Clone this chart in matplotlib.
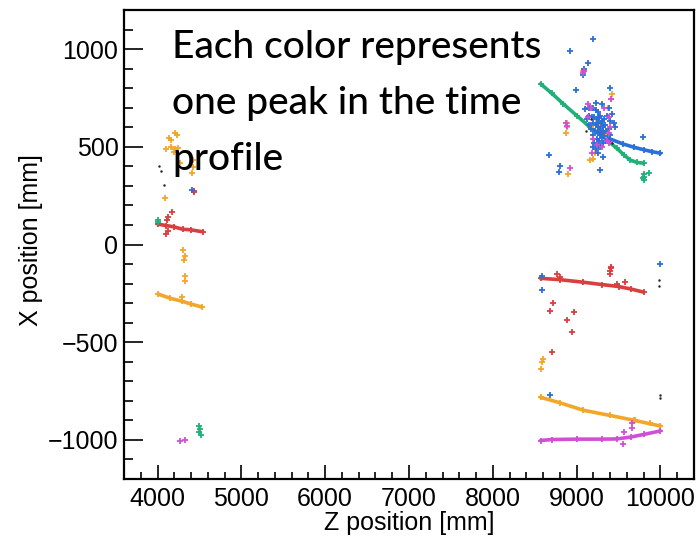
import matplotlib.pyplot as plt
from matplotlib.ticker import MultipleLocator

plt.rcParams['font.family'] = ['Liberation Sans', 'DejaVu Sans']

# ---- colours used for each time-profile peak
c_red = "#d83f3f"
c_orange = "#f4a62a"
c_green = "#21b07a"
c_blue = "#2b6fd8"
c_magenta = "#d050d4"
c_black = "#222222"

# ---- dense tracks (Z, X) in mm
red_left_z = [4000, 4100, 4200, 4300, 4400, 4540]
red_left_x = [105, 97, 90, 78, 75, 65]
red_right_z = [8570, 8800, 9080, 9300, 9500, 9650, 9800]
red_right_x = [-173, -180, -193, -205, -215, -228, -244]

orange_left_z = [4010, 4150, 4290, 4400, 4530]
orange_left_x = [-254, -275, -290, -305, -320]
orange_right_z = [8570, 8800, 9080, 9400, 9680, 10000]
orange_right_x = [-782, -810, -848, -875, -899, -929]

green_z = [8570, 8700, 8840, 9000, 9160, 9250, 9480, 9560, 9640, 9720, 9800]
green_x = [822, 775, 720, 660, 600, 574, 492, 460, 432, 420, 416]

blue_z = [9250, 9400, 9550, 9680, 9800, 9900, 10000]
blue_x = [570, 540, 515, 498, 485, 475, 467]

magenta_z = [8570, 8700, 9000, 9300, 9480, 9650, 9800, 10000]
magenta_x = [-1003, -998, -996, -996, -995, -985, -972, -954]

# ---- isolated hits
red_pts_z = [4167, 4120, 4108, 4120, 4096, 4430, 4440, 9402, 9405, 9400, 9410,
             8720, 8685, 8971, 8888, 8947, 8709, 8768, 9485, 9581, 8800]
red_pts_x = [168, 142, 127, 71, 56, 274, 270, -137, -122, -150, -115,
             -300, -340, -345, -386, -447, -548, -152, -203, -193, -165]

orange_pts_z = [4203, 4227, 4131, 4155, 4096, 4155, 4203, 4239, 4191, 4263, 4418,
                4418, 4406, 4084, 4300, 4323, 4311, 4323, 4323, 4287,
                8601, 8590, 8577, 9420, 9410, 9270, 9260, 9280, 9170, 9220,
                9350, 9370, 8880, 8870, 8890, 9080, 8900, 9200, 9160, 9700, 9880]
orange_pts_x = [569, 558, 543, 533, 487, 497, 487, 492, 472, 416, 431,
                396, 366, 239, -30, -61, -81, -163, -188, -270,
                -584, -599, -635, 770, 745, 650, 630, 610, 600, 470,
                560, 700, 600, 570, 620, 890, 360, 440, 430, -900, -915]

green_pts_z = [4000, 4005, 4500, 4510, 4500, 4520, 9800, 9800, 9800, 9790, 9860]
green_pts_x = [117, 125, -930, -945, -960, -975, 360, 345, 330, 340, 365]

blue_pts_z = [4406, 9200, 8920, 9130, 9090, 9070, 8990, 9400, 9100, 8670, 8800,
              8790, 9320, 9280, 9790, 8590, 8590, 8680, 10000,
              9200, 9230, 9260, 9150, 9180, 9210, 9240, 9270, 9300, 9330, 9360,
              9390, 9420, 9440, 9460, 9200, 9230, 9250, 9280, 9310, 9340, 9220,
              9250, 9280, 9300, 9240, 9270, 9300, 9330, 9200, 9170, 9150, 9260,
              9290, 9320, 9350, 9380, 9400, 9210, 9250, 9280, 9310, 9350, 9230,
              9120, 9280, 9230, 9300, 9150, 9400, 9260, 9190]
blue_pts_x = [279, 1050, 990, 930, 900, 865, 790, 800, 695, 460, 400,
              370, 450, 380, 550, -162, -235, -770, -100,
              700, 690, 680, 660, 650, 655, 640, 650, 630, 640, 660,
              700, 670, 620, 600, 620, 610, 600, 590, 600, 610, 580,
              570, 560, 570, 540, 530, 545, 555, 560, 590, 610, 620,
              620, 580, 580, 590, 560, 520, 510, 500, 520, 530, 490,
              640, 660, 725, 720, 700, 630, 470, 500]

magenta_pts_z = [4263, 4323, 9130, 9170, 9140, 9330, 9380, 9400, 9390, 9200,
                 9240, 9300, 9360, 9380, 9180, 8890, 8870, 9410, 8920, 9080,
                 9090, 9569, 9664, 9664, 9557]
magenta_pts_x = [-1005, -1000, 720, 700, 650, 700, 650, 600, 570, 540,
                 510, 500, 530, 520, 470, 605, 620, 745, 390, 880,
                 890, -960, -914, -939, -1020]

black_pts_z = [4012, 4036, 4072, 9170, 9110, 9420, 9988, 9988, 9990, 9990]
black_pts_x = [401, 376, 305, 640, 580, 520, -183, -213, -772, -787]

note = "Each color represents\none peak in the time\nprofile"

# -------------------------
fig = plt.figure(figsize=(7.0, 5.36), dpi=100)
ax = fig.add_axes([124 / 700, 57 / 536, 570 / 700, 469 / 536])

tracks = [
    (red_left_z, red_left_x, c_red), (red_right_z, red_right_x, c_red),
    (orange_left_z, orange_left_x, c_orange), (orange_right_z, orange_right_x, c_orange),
    (green_z, green_x, c_green), (blue_z, blue_x, c_blue),
    (magenta_z, magenta_x, c_magenta),
]
for z, x, col in tracks:
    ax.plot(z, x, '-', color=col, lw=2.6, solid_capstyle='round', zorder=2)
    ax.plot(z, x, '+', color=col, ms=5, mew=1.3, zorder=2)

for z, x, col in [(red_pts_z, red_pts_x, c_red), (orange_pts_z, orange_pts_x, c_orange),
                  (green_pts_z, green_pts_x, c_green), (blue_pts_z, blue_pts_x, c_blue),
                  (magenta_pts_z, magenta_pts_x, c_magenta)]:
    ax.plot(z, x, '+', color=col, ms=4.2, mew=1.3, ls='none', zorder=3)
ax.plot(black_pts_z, black_pts_x, '.', color=c_black, ms=1.5, ls='none', zorder=4)

ax.set_xlim(3600, 10400)
ax.set_ylim(-1200, 1200)
ax.xaxis.set_major_locator(MultipleLocator(1000))
ax.xaxis.set_minor_locator(MultipleLocator(200))
ax.yaxis.set_major_locator(MultipleLocator(500))
ax.yaxis.set_minor_locator(MultipleLocator(100))
ax.tick_params(axis='both', which='both', direction='in', labelsize=18, width=1.2)
ax.tick_params(axis='x', which='major', length=10, pad=6)
ax.tick_params(axis='x', which='minor', length=5)
ax.tick_params(axis='y', which='major', length=13.5, pad=4)
ax.tick_params(axis='y', which='minor', length=6.5)
for s in ax.spines.values():
    s.set_linewidth(1.6)

fig.text(409 / 700, 1 / 536, "Z position [mm]", ha='center', va='bottom', fontsize=18)
fig.text(31 / 700, 1 - 240 / 536, "X position [mm]", ha='center', va='center',
         rotation=90, fontsize=18)

fig.text(172 / 700, 1 - 30 / 536, note, ha='left', va='top', fontsize=28,
         family=['Lato', 'DejaVu Sans'], weight='medium', linespacing=1.75)

fig.savefig("out.png", dpi=100)
